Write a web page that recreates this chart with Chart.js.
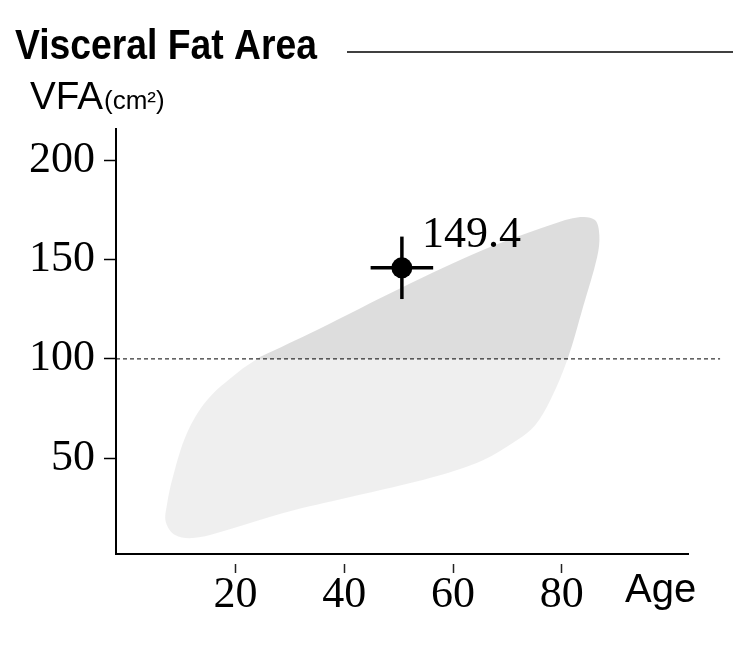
<!DOCTYPE html>
<html><head><meta charset="utf-8">
<script src="https://cdn.jsdelivr.net/npm/chart.js@4.4.1/dist/chart.umd.min.js"></script>
<style>html,body{margin:0;padding:0;background:#fff;} #wrap{width:755px;height:646px;position:relative;}</style>
</head><body><div id="wrap"><canvas id="c"></canvas></div>
<script>
const TITLE = 'Visceral Fat Area';
const Y_LABEL = 'VFA';
const Y_UNIT = '(cm²)';
const X_LABEL = 'Age';
const X_TICKS = [20, 40, 60, 80];
const Y_TICKS = [50, 100, 150, 200];
const X_MIN = -1.96, X_MAX = 103.2;
const Y_MIN = 1.9, Y_MAX = 215.6;
const BAND_AGE = [24.5, 35.0, 50.8, 65.5, 77.9, 83.4, 86.1, 86.9, 86.5, 83.9, 81.0, 77.9, 75.1, 71.8, 65.5, 56.4, 41.1, 28.8, 16.6, 12.2, 8.9, 7.2, 7.4, 8.5, 11.1, 14.8, 20.3, 24.5];
const BAND_VFA = [100.9, 114.5, 136.1, 154.7, 167.3, 171.3, 169.8, 162.3, 151.2, 126.1, 99.4, 79.3, 66.7, 59.2, 49.1, 40.6, 30.5, 22.5, 12.4, 9.9, 11.4, 18.0, 26.5, 40.6, 62.7, 79.3, 92.9, 100.9];
const THRESHOLD = [100];
const THRESHOLD_AGE_END = [109.1];
const SUBJECT_AGE = [50.6];
const SUBJECT_VFA = [145.8];
const SUBJECT_LABEL = ['149.4'];
const AGE_ERR = [5.75];
const VFA_ERR = [15.7];

const DARK = '#dddddd', LIGHT = '#efefef';
const SERIF = '"Liberation Serif", "Times New Roman", serif';
const SANS = '"Liberation Sans", Arial, sans-serif';

function bandFill(c) {
  const chart = c.chart; const a = chart.chartArea;
  if (!a) return LIGHT;
  const p = chart.scales.y.getPixelForValue(THRESHOLD[0]);
  const g = chart.ctx.createLinearGradient(0, a.top, 0, a.bottom);
  const t = Math.min(1, Math.max(0, (p - a.top) / (a.bottom - a.top)));
  g.addColorStop(0, DARK); g.addColorStop(t, DARK);
  g.addColorStop(t, LIGHT); g.addColorStop(1, LIGHT);
  return g;
}

const textPlugin = {
  id: 'texts',
  afterDraw(chart) {
    const ctx = chart.ctx;
    ctx.save();
    ctx.fillStyle = '#000';
    ctx.textBaseline = 'alphabetic';
    ctx.textAlign = 'left';
    ctx.font = 'bold 43px ' + SANS;
    const w = ctx.measureText(TITLE).width;
    ctx.save(); ctx.translate(15, 58.5); ctx.scale(302 / w, 1); ctx.fillText(TITLE, 0, 0); ctx.restore();
    ctx.strokeStyle = '#000'; ctx.lineWidth = 1.3;
    ctx.beginPath(); ctx.moveTo(347, 52); ctx.lineTo(733, 52); ctx.stroke();
    ctx.font = '39px ' + SANS;
    const vw = ctx.measureText(Y_LABEL).width;
    ctx.save(); ctx.translate(30, 108.5); ctx.scale(73 / vw, 1); ctx.fillText(Y_LABEL, 0, 0); ctx.restore();
    ctx.font = '26px ' + SANS;
    ctx.fillText(Y_UNIT, 104, 108.5);
    ctx.font = '40px ' + SANS;
    ctx.fillText(X_LABEL, 625, 602);
    const meta = chart.getDatasetMeta(0);
    ctx.font = '44px ' + SERIF;
    meta.data.forEach((el, i) => { ctx.fillText(SUBJECT_LABEL[i], el.x + 20, el.y - 21); });
    ctx.restore();
  }
};

const band = BAND_AGE.map((x, i) => ({x, y: BAND_VFA[i]}));
const subject = SUBJECT_AGE.map((x, i) => ({x, y: SUBJECT_VFA[i]}));
const hbar = [{x: SUBJECT_AGE[0] - AGE_ERR[0], y: SUBJECT_VFA[0]}, {x: SUBJECT_AGE[0] + AGE_ERR[0], y: SUBJECT_VFA[0]}];
const vbar = [{x: SUBJECT_AGE[0], y: SUBJECT_VFA[0] - VFA_ERR[0]}, {x: SUBJECT_AGE[0], y: SUBJECT_VFA[0] + VFA_ERR[0]}];
const thr = [{x: X_MIN, y: THRESHOLD[0]}, {x: THRESHOLD_AGE_END[0], y: THRESHOLD[0]}];

new Chart(document.getElementById('c'), {
  type: 'line',
  data: {
    datasets: [
      {data: subject, showLine: false, pointRadius: 10.5, pointBackgroundColor: '#000', pointBorderWidth: 0, pointBorderColor: '#000'},
      {data: hbar, borderColor: '#000', borderWidth: 3.5, pointRadius: 0, borderCapStyle: 'butt'},
      {data: vbar, borderColor: '#000', borderWidth: 3.5, pointRadius: 0, borderCapStyle: 'butt'},
      {data: thr, borderColor: '#000', borderWidth: 1, borderDash: [4, 3], pointRadius: 0, clip: false},
      {data: band, borderColor: 'rgba(0,0,0,0)', borderWidth: 0, pointRadius: 0, tension: 0.35, fill: 'shape', backgroundColor: bandFill}
    ]
  },
  options: {
    responsive: true, maintainAspectRatio: false, animation: false,
    layout: {padding: {top: 129, right: 67, bottom: 0, left: 0}},
    plugins: {legend: {display: false}, tooltip: {enabled: false}, title: {display: false}},
    scales: {
      x: {
        type: 'linear', min: X_MIN, max: X_MAX,
        afterBuildTicks: s => { s.ticks = X_TICKS.map(v => ({value: v})); },
        afterFit: s => { s.height = 92; },
        border: {display: true, color: '#000', width: 2},
        grid: {drawOnChartArea: false, drawTicks: true, tickLength: 22, tickWidth: 1.5, tickColor: '#222', tickBorderDash: [0, 9, 9, 100]},
        ticks: {color: '#000', font: {family: SERIF, size: 44}, padding: -7, maxRotation: 0, autoSkip: false, callback: v => String(v)}
      },
      y: {
        type: 'linear', min: Y_MIN, max: Y_MAX,
        afterBuildTicks: s => { s.ticks = Y_TICKS.map(v => ({value: v})); },
        afterFit: s => { s.width = 116; },
        border: {display: true, color: '#000', width: 2},
        grid: {drawOnChartArea: false, drawTicks: true, tickLength: 12, tickWidth: 1.5, tickColor: '#000'},
        ticks: {color: '#000', font: {family: SERIF, size: 44}, padding: 9, autoSkip: false, callback: v => String(v)}
      }
    }
  },
  plugins: [textPlugin]
});
</script></body></html>
